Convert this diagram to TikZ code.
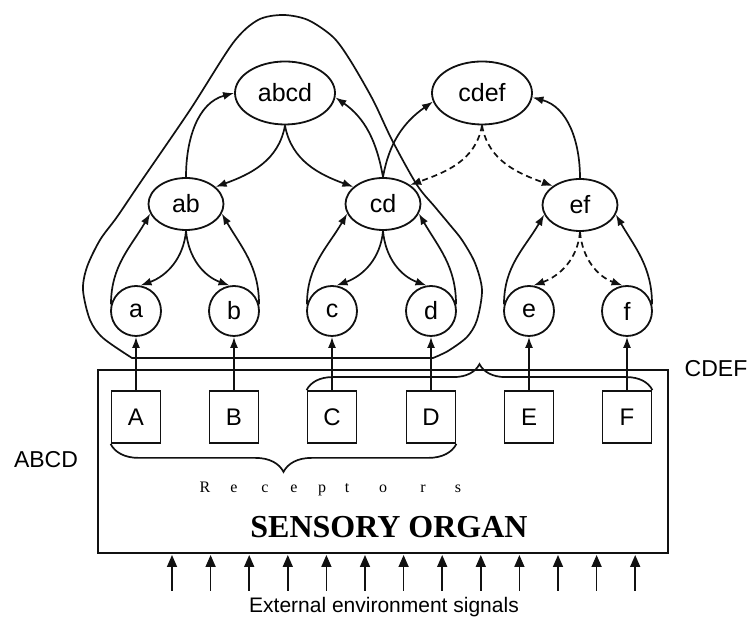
\documentclass[tikz,border=0pt]{standalone}
\usepackage{fontspec}
\setmainfont{Liberation Serif}
\setsansfont{Liberation Sans}
\usetikzlibrary{arrows.meta,positioning,shapes.geometric,decorations.pathreplacing}
\definecolor{OrganInk}{HTML}{111111}
\tikzset{
  cellnode/.style={circle,draw=OrganInk,line width=1.8pt,minimum size=50pt,inner sep=0pt,
    font=\sffamily\fontsize{25}{30}\selectfont},
  pairnode/.style={ellipse,draw=OrganInk,line width=1.8pt,minimum width=75pt,minimum height=52pt,
    inner sep=0pt,font=\sffamily\fontsize{25}{30}\selectfont},
  topnode/.style={pairnode,minimum width=100pt,minimum height=63pt},
  recbox/.style={rectangle,draw=OrganInk,line width=1.8pt,minimum width=49pt,minimum height=52pt,
    inner sep=0pt,font=\sffamily\fontsize{24}{28}\selectfont},
  linkarr/.style={draw=OrganInk,line width=1.7pt,-{Latex[length=11pt,width=8pt]}},
  weaklink/.style={linkarr,dash pattern=on 6pt off 4pt},
  sigarrow/.style={draw=OrganInk,line width=1.6pt,-{Triangle[length=12pt,width=10pt]}},
}
\begin{document}
\begin{tikzpicture}[x=1pt,y=1pt]
  \useasboundingbox (0,0) rectangle (753,617);

  % upper levels
  \node[topnode] (abcd) at (285,524) {abcd};
  \node[topnode] (cdef) at (482,524) {cdef};
  \node[pairnode] (ab) at (186,413) {ab};
  \node[pairnode] (cd) at (383,413) {cd};
  \node[pairnode] (ef) at (580,412) {ef};

  \foreach \n/\x in {a/136,b/234,c/332,d/431,e/529,f/627}
    \node[cellnode] (\n) at (\x,306) {\n};

  \foreach \n/\x in {A/136,B/234,C/332,D/431,E/529,F/627}
    \node[recbox] (R\n) at (\x,200) {\n};

  \foreach \n/\m in {A/a,B/b,C/c,D/d,E/e,F/f}
    \draw[linkarr] (R\n) -- (\m);

  \foreach \p/\l/\r/\s in {ab/a/b/linkarr,cd/c/d/linkarr,ef/e/f/weaklink}{
    \draw[linkarr] (\l.165) to[out=90,in=240] (\p.195);
    \draw[\s] (\p.south) to[out=-95,in=20] (\l.80);
    \draw[\s] (\p.south) to[out=-85,in=160] (\r.100);
    \draw[linkarr] (\r.15) to[out=90,in=-60] (\p.-15);
  }

  \draw[linkarr] (ab.north) to[out=90,in=195] (abcd.west);
  \draw[linkarr] (abcd.south) to[out=-100,in=20] (ab.30);
  \draw[linkarr] (abcd.south) to[out=-80,in=160] (cd.150);
  \draw[linkarr] (cd.north) to[out=100,in=-35] (abcd.-5);
  \draw[linkarr] (cd.north) to[out=80,in=215] (cdef.190);
  \draw[weaklink] (cdef.south) to[out=-100,in=20] (cd.35);
  \draw[weaklink] (cdef.south) to[out=-80,in=160] (ef.145);
  \draw[linkarr] (ef.north) to[out=90,in=-15] (cdef.-5);

  % loop round the ABCD hierarchy
  \draw[OrganInk,line width=1.7pt]
    plot[smooth] coordinates {
      (433,259) (448,266) (467,280) (477,297) (482,327) (475,354)
      (462,377) (450,392) (435,410) (417,432) (392,477) (373,517)
      (350,557) (333,580) (308,597) (283,602) (258,597) (233,574)
      (190,507) (140,434) (117,400) (100,377) (87,350) (83,327)
      (90,297) (103,279) (132,259)
    } -- cycle;

  % sensory organ
  \draw[OrganInk,line width=1.8pt] (98,64) rectangle (668,247);
  \draw[OrganInk,line width=1.7pt,decorate,decoration={brace,amplitude=28pt,mirror}]
    (RA.south west) -- (RD.south east);
  \draw[OrganInk,line width=1.7pt,decorate,decoration={brace,amplitude=26pt}]
    (RC.north west) -- (RF.north east);

  \node[font=\sffamily\fontsize{23}{28}\selectfont] (lABCD) at (46,157) {ABCD};
  \node[font=\sffamily\fontsize{23}{28}\selectfont] (lCDEF) at (716,248) {CDEF};

  \foreach \ch/\x [count=\i] in {R/205,e/234,c/265,e/294,p/322,t/347,o/383,r/423,s/458}
    \node[font=\fontsize{16}{19}\selectfont,anchor=base,inner sep=0pt] (rcp\i) at (\x,124) {\ch};

  \node[font=\bfseries\fontsize{32}{38}\selectfont,inner sep=0pt] (organ) at (389,89.5) {SENSORY ORGAN};

  \foreach \i in {0,...,12}{
    \coordinate (sg\i) at ({172+38.6*\i},26);
    \coordinate (st\i) at ({172+38.6*\i},62);
    \draw[sigarrow] (sg\i) -- (st\i);
  }
  \node[font=\sffamily\fontsize{21}{25}\selectfont,anchor=base,inner sep=0pt] (envtext) at (384,4)
    {External environment signals};
\end{tikzpicture}
\end{document}
